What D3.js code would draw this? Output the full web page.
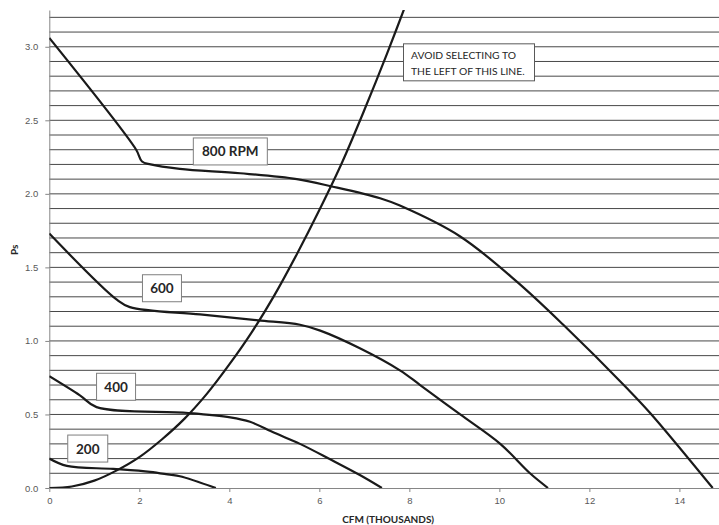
<!DOCTYPE html>
<html>
<head>
<meta charset="utf-8">
<script src="https://cdn.jsdelivr.net/npm/d3@7"></script>
<style>
	body {margin: 0; background: #fff;}
	svg {display: block; font-family: Lato, "Open Sans", sans-serif;}
	.tick text {fill: #595959; font-size: 9.5px;}
	.axis path, .axis line {stroke: #868686;}
	.grid line {stroke: #333; stroke-width: 0.9;}
	.curve {fill: none; stroke: #1a1a1a; stroke-width: 2.2;}
	.axis-label {font-weight: bold; font-size: 10px; fill: #262626;}
</style>
</head>
<body>
<svg width="719" height="525"></svg>
<script>
// fan curves, CFM in thousands vs Ps
const rpm800 = [[0, 3.06], [1.93, 2.30], [2.06, 2.22], [2.25, 2.20], [2.9, 2.17], [4.24, 2.14], [5.5, 2.10], [6.28, 2.05], [7.35, 1.97], [7.79, 1.92], [9.13, 1.71], [10.4, 1.40], [11.42, 1.11], [12.83, 0.68], [13.35, 0.51], [14.74, 0]];
const rpm600 = [[0, 1.73], [1.5, 1.28], [1.79, 1.23], [3.35, 1.18], [4.64, 1.14], [5.57, 1.11], [6.02, 1.07], [6.9, 0.95], [7.79, 0.80], [8.24, 0.70], [9.13, 0.50], [10.02, 0.30], [10.68, 0.10], [11.08, 0]];
const rpm400 = [[0, 0.76], [0.68, 0.63], [1.05, 0.55], [3.09, 0.51], [4.02, 0.48], [4.46, 0.45], [5.0, 0.375], [5.57, 0.30], [6.24, 0.195], [6.9, 0.088], [7.39, 0]];
const rpm200 = [[0, 0.20], [0.39, 0.15], [1.42, 0.13], [2.24, 0.11], [2.68, 0.09], [2.9, 0.08], [3.7, 0]];
const systemLine = [[0, 0], [0.5, 0.01], [1, 0.05], [1.5, 0.12], [2, 0.21], [2.5, 0.33], [3, 0.47], [3.5, 0.64], [4, 0.84], [4.5, 1.06], [5, 1.31], [5.5, 1.59], [6, 1.89], [6.5, 2.21], [7, 2.57], [7.5, 2.95], [8, 3.35]];

const xTicks = [0, 2, 4, 6, 8, 10, 12, 14];
const yTicks = [0, 0.5, 1.0, 1.5, 2.0, 2.5, 3.0];

// label boxes: text and upper left corner in data units
const rpmLabels = [
	{text: "800 RPM", x: 3.2, y: 2.38, w: 74},
	{text: "600", x: 2.07, y: 1.45, w: 39},
	{text: "400", x: 1.05, y: 0.78, w: 39},
	{text: "200", x: 0.41, y: 0.36, w: 40}
];
const noteLines = ["AVOID SELECTING TO", "THE LEFT OF THIS LINE."];

let svg = d3.select("svg");
let margin = {top: 10, right: 0, bottom: 37, left: 49.3};
let width = 719 - margin.left - margin.right;
let height = 525 - margin.top - margin.bottom;
let canvas = svg.append("g").attr("transform", "translate(" + margin.left + "," + margin.top + ")");

let xscale = d3.scaleLinear().domain([0, 14.88]).range([0, width]);
let yscale = d3.scaleLinear().domain([0, 3.25]).range([height, 0]);

canvas.append("clipPath").attr("id", "plot")
	.append("rect").attr("width", width).attr("height", height);

//Gitterlinien
canvas.append("g").attr("class", "grid")
	.selectAll("line")
	.data(d3.range(1, 33).map(function(i) {return i / 10;}))
	.enter().append("line")
		.attr("x1", 0)
		.attr("x2", width)
		.attr("y1", function(d) {return yscale(d);})
		.attr("y2", function(d) {return yscale(d);});

let xaxis = d3.axisBottom(xscale).tickValues(xTicks).tickFormat(d3.format("d")).tickSize(4).tickSizeOuter(0);
let yaxis = d3.axisLeft(yscale).tickValues(yTicks).tickFormat(d3.format(".1f")).tickSize(4).tickSizeOuter(0);

canvas.append("g")
	.attr("class", "axis axis-x")
	.attr("transform", "translate(0," + height + ")")
	.call(xaxis)
	.call(function(g) {g.selectAll(".tick text").attr("dy", "0.9em");});
canvas.append("g")
	.attr("class", "axis axis-y")
	.call(yaxis)
	.call(function(g) {g.selectAll(".tick text").attr("x", -11);});

canvas.append("text")
	.attr("class", "axis-label")
	.attr("text-anchor", "middle")
	.attr("x", width / 2 + 4)
	.attr("y", height + 35)
	.text("CFM (THOUSANDS)");
canvas.append("text")
	.attr("class", "axis-label")
	.attr("text-anchor", "middle")
	.attr("transform", "translate(" + (-31) + "," + (yscale(1.62)) + ")rotate(-90)")
	.text("Ps");

let line = d3.line()
	.x(function(d) {return xscale(d[0]);})
	.y(function(d) {return yscale(d[1]);})
	.curve(d3.curveCatmullRom.alpha(0.5));

let curves = canvas.append("g").attr("clip-path", "url(#plot)");
[rpm800, rpm600, rpm400, rpm200, systemLine].forEach(function(series) {
	curves.append("path")
		.attr("class", "curve")
		.attr("d", line(series));
});

//Beschriftungen
let labels = canvas.selectAll(".rpm-label")
	.data(rpmLabels)
	.enter().append("g")
		.attr("class", "rpm-label")
		.attr("transform", function(d) {return "translate(" + xscale(d.x) + "," + yscale(d.y) + ")";});
labels.append("rect")
	.attr("width", function(d) {return d.w;})
	.attr("height", 27)
	.attr("fill", "#fff")
	.attr("stroke", "#7f7f7f");
labels.append("text")
	.attr("x", function(d) {return d.w / 2;})
	.attr("y", 18.5)
	.attr("text-anchor", "middle")
	.attr("font-weight", "bold")
	.attr("font-size", "13.5px")
	.attr("fill", "#262626")
	.text(function(d) {return d.text;});

let note = canvas.append("g")
	.attr("transform", "translate(" + xscale(7.87) + "," + yscale(3.02) + ")");
note.append("rect")
	.attr("width", 131)
	.attr("height", 37)
	.attr("fill", "#fff")
	.attr("stroke", "#595959");
note.selectAll("text")
	.data(noteLines)
	.enter().append("text")
		.attr("x", 7.5)
		.attr("y", function(d, i) {return 15.5 + i * 15.5;})
		.attr("font-size", "10.3px")
		.attr("fill", "#262626")
		.text(function(d) {return d;});
</script>
</body>
</html>
